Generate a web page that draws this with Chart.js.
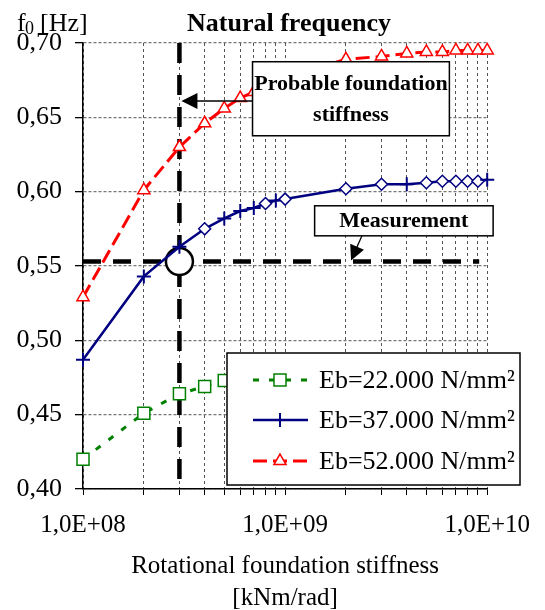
<!DOCTYPE html>
<html>
<head>
<meta charset="utf-8">
<script src="https://cdn.jsdelivr.net/npm/chart.js@4.4.1/dist/chart.umd.min.js"></script>
<style>
  html, body { margin: 0; padding: 0; background: #fff; }
  #wrap { width: 545px; height: 610px; position: relative; }
</style>
</head>
<body>
<div id="wrap"><canvas id="graficoFrequencia"></canvas></div>
<script>
// Rotational foundation stiffness [kNm/rad]
const stiffness = [1e8, 2e8, 3e8, 4e8, 5e8, 6e8, 7e8, 8e8, 9e8, 1e9, 2e9, 3e9, 4e9, 5e9, 6e9, 7e9, 8e9, 9e9, 1e10];
// Natural frequency f0 [Hz] per concrete modulus
const freqEb22 = [0.420, 0.451, 0.464, 0.469, 0.473, 0.475, 0.476, 0.477, 0.478, 0.478, 0.481, 0.482, 0.483, 0.483, 0.483, 0.483, 0.483, 0.483, 0.483];
const freqEb37 = [0.487, 0.543, 0.563, 0.575, 0.582, 0.587, 0.589, 0.592, 0.594, 0.595, 0.602, 0.605, 0.605, 0.606, 0.607, 0.607, 0.607, 0.607, 0.608];
const freqEb52 = [0.529, 0.601, 0.630, 0.646, 0.656, 0.663, 0.667, 0.671, 0.674, 0.677, 0.689, 0.691, 0.693, 0.694, 0.694, 0.695, 0.695, 0.695, 0.695];
const seriesLabels = ['Eb=22.000 N/mm²', 'Eb=37.000 N/mm²', 'Eb=52.000 N/mm²'];
// markers of the blue series (+ and diamonds mixed as in the original)
const eb37Markers = ['cross', 'cross', 'cross', 'rectRot', 'cross', 'cross', 'cross', 'rectRot', 'cross', 'rectRot',
                     'rectRot', 'rectRot', 'cross', 'rectRot', 'rectRot', 'rectRot', 'rectRot', 'rectRot', 'cross'];

// axis ticks
const xGridValues = stiffness;
const xLabelValues = [1e8, 1e9, 1e10];
const xLabelTexts = ['1,0E+08', '1,0E+09', '1,0E+10'];
const yTickValues = [0.40, 0.45, 0.50, 0.55, 0.60, 0.65, 0.70];
const yTickLabels = ['0,40', '0,45', '0,50', '0,55', '0,60', '0,65', '0,70'];

// annotations
const probableStiffness = 3e8;
const measuredFreq = 0.553;

const FONT = '"Liberation Serif", "Times New Roman", serif';
const GREEN = '#008000', BLUE = '#000080', RED = '#ff0000';

function serie(valores) {
    return stiffness.map((x, i) => ({ x: x, y: valores[i] }));
}

// draws a legend marker by hand
function marcador(ctx, estilo, x, y, r, cor, lw) {
    ctx.save();
    ctx.setLineDash([]);
    ctx.lineWidth = lw;
    ctx.strokeStyle = cor;
    ctx.fillStyle = '#fff';
    ctx.beginPath();
    if (estilo === 'rect') {
        const s = r * Math.SQRT1_2;
        ctx.rect(x - s, y - s, 2 * s, 2 * s);
        ctx.fill();
    } else if (estilo === 'triangle') {
        ctx.moveTo(x, y - r);
        ctx.lineTo(x + r * Math.sin(Math.PI / 3), y + r * 0.5);
        ctx.lineTo(x - r * Math.sin(Math.PI / 3), y + r * 0.5);
        ctx.closePath();
        ctx.fill();
    } else if (estilo === 'cross') {
        ctx.moveTo(x, y - r); ctx.lineTo(x, y + r);
        ctx.moveTo(x - r, y); ctx.lineTo(x + r, y);
    }
    ctx.stroke();
    ctx.restore();
}

function seta(ctx, x1, y1, x2, y2, tam) {
    const ang = Math.atan2(y2 - y1, x2 - x1);
    ctx.save();
    ctx.strokeStyle = '#000';
    ctx.fillStyle = '#000';
    ctx.lineWidth = 1.3;
    ctx.setLineDash([]);
    ctx.beginPath();
    ctx.moveTo(x1, y1);
    ctx.lineTo(x2 - Math.cos(ang) * tam * 0.8, y2 - Math.sin(ang) * tam * 0.8);
    ctx.stroke();
    ctx.beginPath();
    ctx.moveTo(x2, y2);
    ctx.lineTo(x2 - tam * Math.cos(ang) + tam * 0.5 * Math.sin(ang), y2 - tam * Math.sin(ang) - tam * 0.5 * Math.cos(ang));
    ctx.lineTo(x2 - tam * Math.cos(ang) - tam * 0.5 * Math.sin(ang), y2 - tam * Math.sin(ang) + tam * 0.5 * Math.cos(ang));
    ctx.closePath();
    ctx.fill();
    ctx.restore();
}

function caixaTexto(ctx, x1, y1, x2, y2, linhas, entre) {
    ctx.save();
    ctx.setLineDash([]);
    ctx.fillStyle = '#fff';
    ctx.fillRect(x1, y1, x2 - x1, y2 - y1);
    ctx.lineWidth = 1.5;
    ctx.strokeStyle = '#000';
    ctx.strokeRect(x1, y1, x2 - x1, y2 - y1);
    ctx.fillStyle = '#000';
    ctx.font = 'bold 22px ' + FONT;
    ctx.textAlign = 'center';
    ctx.textBaseline = 'middle';
    const meio = (y1 + y2) / 2;
    const inicio = meio - entre * (linhas.length - 1) / 2;
    linhas.forEach((t, i) => ctx.fillText(t, (x1 + x2) / 2, inicio + entre * i + 1));
    ctx.restore();
}

// lines and circle behind the data
const anotacoesFundo = {
    id: 'anotacoesFundo',
    beforeDatasetsDraw(chart) {
        const { ctx, chartArea, scales: { x, y } } = chart;
        const px = x.getPixelForValue(probableStiffness);
        const py = y.getPixelForValue(measuredFreq);
        ctx.save();
        ctx.strokeStyle = '#000';
        ctx.lineWidth = 4.5;
        ctx.setLineDash([20, 12]);
        ctx.beginPath();
        ctx.moveTo(px, chartArea.top);
        ctx.lineTo(px, chartArea.bottom);
        ctx.stroke();
        ctx.setLineDash([18, 12]);
        ctx.beginPath();
        ctx.moveTo(chartArea.left, py);
        ctx.lineTo(chartArea.right - 8, py);
        ctx.stroke();
        ctx.setLineDash([]);
        ctx.lineWidth = 2.5;
        ctx.fillStyle = '#fff';
        ctx.beginPath();
        ctx.arc(px, py, 13.5, 0, Math.PI * 2);
        ctx.fill();
        ctx.stroke();
        ctx.restore();
    }
};

// boxes, arrows and legend on top
const anotacoesFrente = {
    id: 'anotacoesFrente',
    afterDraw(chart) {
        const { ctx, chartArea, scales: { x, y } } = chart;
        const px = x.getPixelForValue(probableStiffness);
        const py = y.getPixelForValue(measuredFreq);

        // probable foundation stiffness
        const bx1 = x.getPixelForValue(6.9e8), bx2 = x.getPixelForValue(6.5e9);
        const by1 = y.getPixelForValue(0.6874), by2 = y.getPixelForValue(0.6376);
        const ay = y.getPixelForValue(0.661);
        seta(ctx, bx1, ay, px + 2, ay, 16);
        caixaTexto(ctx, bx1, by1, bx2, by2, ['Probable foundation', 'stiffness'], 31);

        // measurement
        const mx1 = x.getPixelForValue(1.4e9), mx2 = x.getPixelForValue(1.07e10);
        const my1 = y.getPixelForValue(0.5905), my2 = y.getPixelForValue(0.5703);
        seta(ctx, x.getPixelForValue(2.4e9), my2, x.getPixelForValue(2.12e9), py - 1, 15);
        caixaTexto(ctx, mx1, my1, mx2, my2, ['Measurement'], 0);

        // legend
        const lx1 = 227, ly1 = 353, lx2 = 520, ly2 = 485;
        ctx.save();
        ctx.fillStyle = '#fff';
        ctx.fillRect(lx1, ly1, lx2 - lx1, ly2 - ly1);
        ctx.lineWidth = 1.5;
        ctx.strokeStyle = '#000';
        ctx.strokeRect(lx1, ly1, lx2 - lx1, ly2 - ly1);
        const linhas = [
            { cor: GREEN, dash: [6, 10], estilo: 'rect', r: 8.5, lw: 1.5, w: 3 },
            { cor: BLUE, dash: [], estilo: 'cross', r: 7, lw: 2, w: 2.5 },
            { cor: RED, dash: [14, 6], estilo: 'triangle', r: 7, lw: 1.5, w: 3 }
        ];
        const rowsY = [380, 420, 461];
        linhas.forEach((l, i) => {
            const yy = rowsY[i];
            ctx.save();
            ctx.strokeStyle = l.cor;
            ctx.lineWidth = l.w;
            ctx.setLineDash(l.dash);
            ctx.beginPath();
            ctx.moveTo(253, yy);
            ctx.lineTo(308, yy);
            ctx.stroke();
            ctx.restore();
            marcador(ctx, l.estilo, 280, yy, l.r, l.cor, l.lw);
            ctx.fillStyle = '#000';
            ctx.font = '26px ' + FONT;
            ctx.textAlign = 'left';
            ctx.textBaseline = 'middle';
            ctx.fillText(seriesLabels[i], 319, yy + 1);
        });
        ctx.restore();

        // title and y unit
        ctx.save();
        ctx.fillStyle = '#000';
        ctx.textBaseline = 'alphabetic';
        ctx.textAlign = 'center';
        ctx.font = 'bold 26px ' + FONT;
        ctx.fillText('Natural frequency', 289, 31);
        ctx.textAlign = 'left';
        ctx.font = '26px ' + FONT;
        ctx.fillText('f', 17, 31);
        ctx.font = '18px ' + FONT;
        ctx.fillText('0', 25, 34);
        ctx.font = '26px ' + FONT;
        ctx.fillText('[Hz]', 40, 31);
        ctx.restore();
    }
};

new Chart(document.getElementById('graficoFrequencia'), {
    type: 'line',
    data: {
        datasets: [
            {
                label: seriesLabels[0],
                data: serie(freqEb22),
                borderColor: GREEN,
                borderWidth: 3,
                borderDash: [6, 10],
                pointStyle: 'rect',
                pointRadius: 8.5,
                pointBorderWidth: 1.5,
                pointBorderColor: GREEN,
                pointBackgroundColor: '#fff',
                clip: false
            },
            {
                label: seriesLabels[1],
                data: serie(freqEb37),
                borderColor: BLUE,
                borderWidth: 2.5,
                pointStyle: eb37Markers,
                pointRadius: eb37Markers.map(m => m === 'cross' ? 7 : 6),
                pointBorderWidth: eb37Markers.map(m => m === 'cross' ? 2 : 1.5),
                pointBorderColor: BLUE,
                pointBackgroundColor: '#fff',
                clip: false
            },
            {
                label: seriesLabels[2],
                data: serie(freqEb52),
                borderColor: RED,
                borderWidth: 3,
                borderDash: [14, 6],
                pointStyle: 'triangle',
                pointRadius: 7,
                pointBorderWidth: 1.5,
                pointBorderColor: RED,
                pointBackgroundColor: '#fff',
                clip: false
            }
        ]
    },
    options: {
        responsive: true,
        maintainAspectRatio: false,
        animation: false,
        layout: { padding: { left: 0, top: 43, right: 52, bottom: 0 } },
        plugins: {
            legend: { display: false },
            title: { display: false },
            tooltip: { enabled: false }
        },
        scales: {
            x: {
                type: 'logarithmic',
                min: 1e8,
                max: 1e10,
                afterFit: s => { s.height = 121; },
                afterBuildTicks: s => { s.ticks = xGridValues.map(v => ({ value: v })); },
                grid: {
                    color: '#555',
                    lineWidth: 1,
                    tickLength: 6,
                    tickColor: '#000'
                },
                border: { display: true, color: '#000', width: 1.5, dash: [3, 3] },
                ticks: {
                    autoSkip: false,
                    maxRotation: 0,
                    padding: 15,
                    color: '#000',
                    font: { family: FONT, size: 25 },
                    callback: v => {
                        const i = xLabelValues.indexOf(v);
                        return i >= 0 ? xLabelTexts[i] : '';
                    }
                },
                title: {
                    display: true,
                    text: ['Rotational foundation stiffness', '[kNm/rad]'],
                    color: '#000',
                    font: { family: FONT, size: 25, lineHeight: 1.3 },
                    padding: { top: 0, bottom: -5 }
                }
            },
            y: {
                min: 0.40,
                max: 0.70,
                afterFit: s => { s.width = 83; },
                afterBuildTicks: s => { s.ticks = yTickValues.map(v => ({ value: v })); },
                grid: {
                    color: '#777',
                    lineWidth: 1.3,
                    tickLength: 8,
                    tickColor: '#000'
                },
                border: { display: true, color: '#000', width: 1.5, dash: [3, 2] },
                ticks: {
                    padding: 13,
                    color: '#000',
                    font: { family: FONT, size: 26 },
                    callback: (v, i) => yTickLabels[yTickValues.indexOf(v)] ?? ''
                }
            }
        }
    },
    plugins: [anotacoesFundo, anotacoesFrente]
});
</script>
</body>
</html>
